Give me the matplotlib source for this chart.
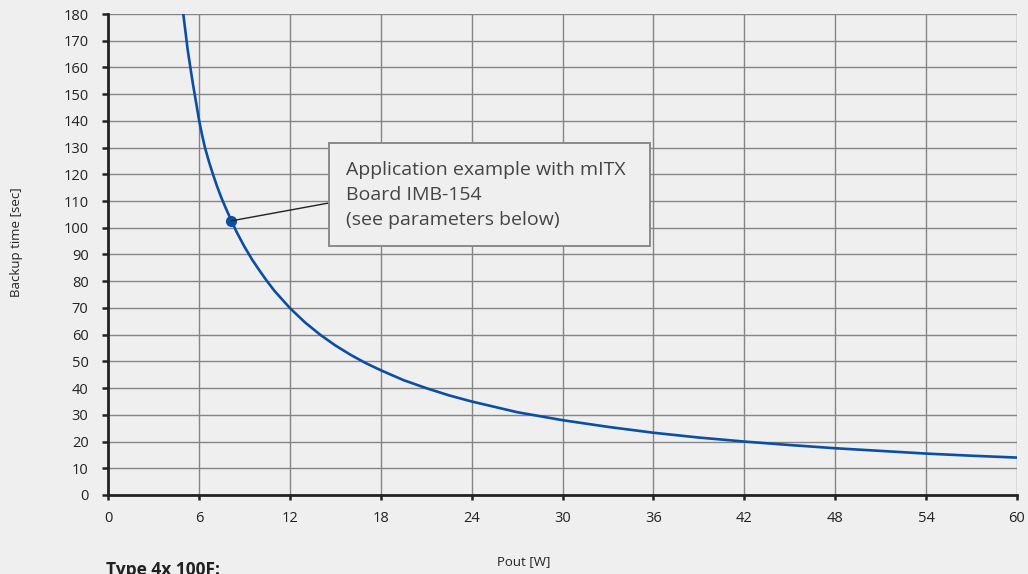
import numpy as np
import matplotlib
matplotlib.use("Agg")
import matplotlib.pyplot as plt
from matplotlib.patches import Rectangle

#%% data
pout = [4.97, 5.1, 5.25, 5.45, 5.6, 5.75, 6.02, 6.2, 6.4, 6.65, 6.9, 7.2, 7.5,
        7.8, 8.15, 8.5, 9.0, 9.5, 10.0, 10.5, 11.0, 12, 13, 14, 15, 16, 17,
        18, 19.5, 21, 22.5, 24, 27, 30, 33, 36, 39, 42, 45, 48, 51, 54, 57, 60]
backup = [180, 174, 167, 159.5, 154, 149, 140, 135, 130, 125, 120.5, 115.5, 111,
          107, 102.6, 98.3, 93, 88.2, 84, 80, 76.3, 70, 64.6, 60, 56, 52.5, 49.4,
          46.7, 43, 40, 37.3, 35, 31, 28, 25.5, 23.3, 21.5, 20, 18.7, 17.5,
          16.5, 15.5, 14.7, 14]
example_p = 8.15
example_t = 102.6
x_ticks = [0, 6, 12, 18, 24, 30, 36, 42, 48, 54, 60]
y_ticks = list(range(0, 181, 10))
note = "Application example with mITX\nBoard IMB-154\n(see parameters below)"

bg = '#efefef'
blue = '#0a4fa3'
plt.rcParams['font.family'] = ['Open Sans', 'DejaVu Sans']

fig = plt.figure(figsize=(10.28, 5.74), dpi=100, facecolor=bg)
ax = fig.add_axes([108/1028, 1-495/574, (1017-108)/1028, (495-14)/574])
ax.set_facecolor(bg)

ax.plot(pout, backup, color=blue, lw=1.9, zorder=4, solid_joinstyle='round')
ax.plot([example_p], [example_t], 'o', color=blue, ms=7, zorder=5)

ax.set_xlim(0, 60)
ax.set_ylim(0, 180)
ax.set_xticks(x_ticks)
ax.set_yticks(y_ticks)
ax.grid(True, color='#858585', lw=1.0, zorder=1)
ax.set_axisbelow(True)

for s in ['top', 'right']:
    ax.spines[s].set_visible(False)
for s in ['left', 'bottom']:
    ax.spines[s].set_linewidth(2.0)
    ax.spines[s].set_color('#222222')
    ax.spines[s].set_zorder(6)
ax.tick_params(axis='y', length=4, width=1.8, color='#222222', pad=10,
               labelsize=10.5, labelcolor='#222222')
ax.tick_params(axis='x', length=3.5, width=1.8, color='#222222', pad=8,
               labelsize=10.5, labelcolor='#222222')

# note box and connector
ax.add_patch(Rectangle((14.6, 93.2), 21.2, 38.5, facecolor=bg, edgecolor='#8a8a8a',
                       lw=1.4, zorder=7))
ax.plot([example_p, 14.6], [example_t, 109.3], color='#222222', lw=1.0, zorder=6)
ax.text(15.7, 112.3, note, fontsize=14, color='#444444', va='center', ha='left',
        linespacing=1.5, zorder=8)

fig.text(17/1028, 1-242/574, "Backup time [sec]", rotation=90, fontsize=9.5,
         color='#222222', ha='center', va='center')
fig.text(524/1028, 1-562/574, "Pout [W]", fontsize=9.5, color='#222222',
         ha='center', va='center')
fig.text(106/1028, 1-561/574, "Type 4x 100F:", fontsize=12.5, fontweight='bold',
         color='#222222', ha='left', va='top')

fig.savefig('out.png', dpi=100, facecolor=bg)
